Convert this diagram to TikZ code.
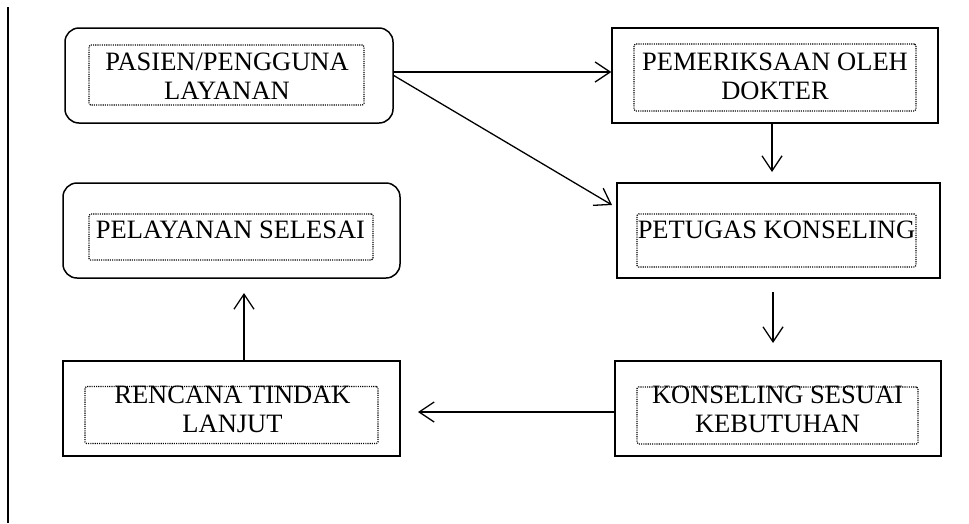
\documentclass[tikz,border=0pt]{standalone}
\usepackage{fontspec}
\setmainfont{Liberation Serif}
\usetikzlibrary{arrows.meta}
\tikzset{
  outerbox/.style={draw, line width=1.5pt, minimum width=#1, minimum height=95pt, inner sep=0pt},
  roundbox/.style={outerbox=#1, rounded corners=14pt},
  dotbox/.style={draw, line width=1.1pt, dash pattern=on 1.1pt off 1.1pt, rounded corners=1.5pt, inner sep=0pt},
  label/.style={font=\fontsize{26.5}{29}\selectfont, align=center, inner sep=0pt},
  arr/.style={line width=1.3pt, -{Straight Barb[length=15pt,width=20pt,line width=1.3pt]}}
}
\begin{document}
\begin{tikzpicture}[x=1pt,y=-1pt]
\useasboundingbox (0,0) rectangle (969,523);
\coordinate (ltop) at (8,7);
\coordinate (lbot) at (8,523);
\draw[line width=1.6pt] (ltop) -- (lbot);

% boxes
\node[roundbox=328pt] (pasien) at (229,75.5) {};
\node[dotbox, minimum width=275pt, minimum height=60pt] (pasienD) at (226.5,75) {};
\node[label] (pasienT) at (227,76) {PASIEN/PENGGUNA\\LAYANAN};

\node[outerbox=326pt] (periksa) at (775,75.5) {};
\node[dotbox, minimum width=282pt, minimum height=67pt] (periksaD) at (775,77.5) {};
\node[label] (periksaT) at (775,76) {PEMERIKSAAN OLEH\\DOKTER};

\node[outerbox=323pt] (petugas) at (778.5,230.5) {};
\node[dotbox, minimum width=279pt, minimum height=53pt] (petugasD) at (776.5,240.5) {};
\node[label] (petugasT) at (776.5,230) {PETUGAS KONSELING};

\node[roundbox=337pt] (selesai) at (231.5,230.5) {};
\node[dotbox, minimum width=284pt, minimum height=46pt] (selesaiD) at (231,237) {};
\node[label] (selesaiT) at (230.5,230) {PELAYANAN SELESAI};

\node[outerbox=337pt] (rencana) at (231.5,408.5) {};
\node[dotbox, minimum width=293pt, minimum height=57pt] (rencanaD) at (231.5,415) {};
\node[label] (rencanaT) at (232.5,409) {RENCANA TINDAK\\LANJUT};

\node[outerbox=326pt] (konsel) at (778,408.5) {};
\node[dotbox, minimum width=281pt, minimum height=57pt] (konselD) at (777.5,415.5) {};
\node[label] (konselT) at (777.5,409) {KONSELING SESUAI\\KEBUTUHAN};

% free ends
\coordinate (d1) at (612,205);
\coordinate (e2) at (772,172);
\coordinate (s3) at (773,292);
\coordinate (e3) at (773,343);
\coordinate (e4) at (418,412);
\coordinate (e5) at (244,293);

% connectors
\draw[arr] ([yshift=3.5pt]pasien.east) -- ([yshift=3.5pt]periksa.west);
\draw[arr] (pasien.east) -- (d1);
\draw[arr] ([xshift=-3pt]periksa.south) -- (e2);
\draw[arr] (s3) -- (e3);
\draw[arr] ([yshift=-3.5pt]konsel.west) -- (e4);
\draw[arr] ([xshift=12.5pt]rencana.north) -- (e5);
\end{tikzpicture}
\end{document}
